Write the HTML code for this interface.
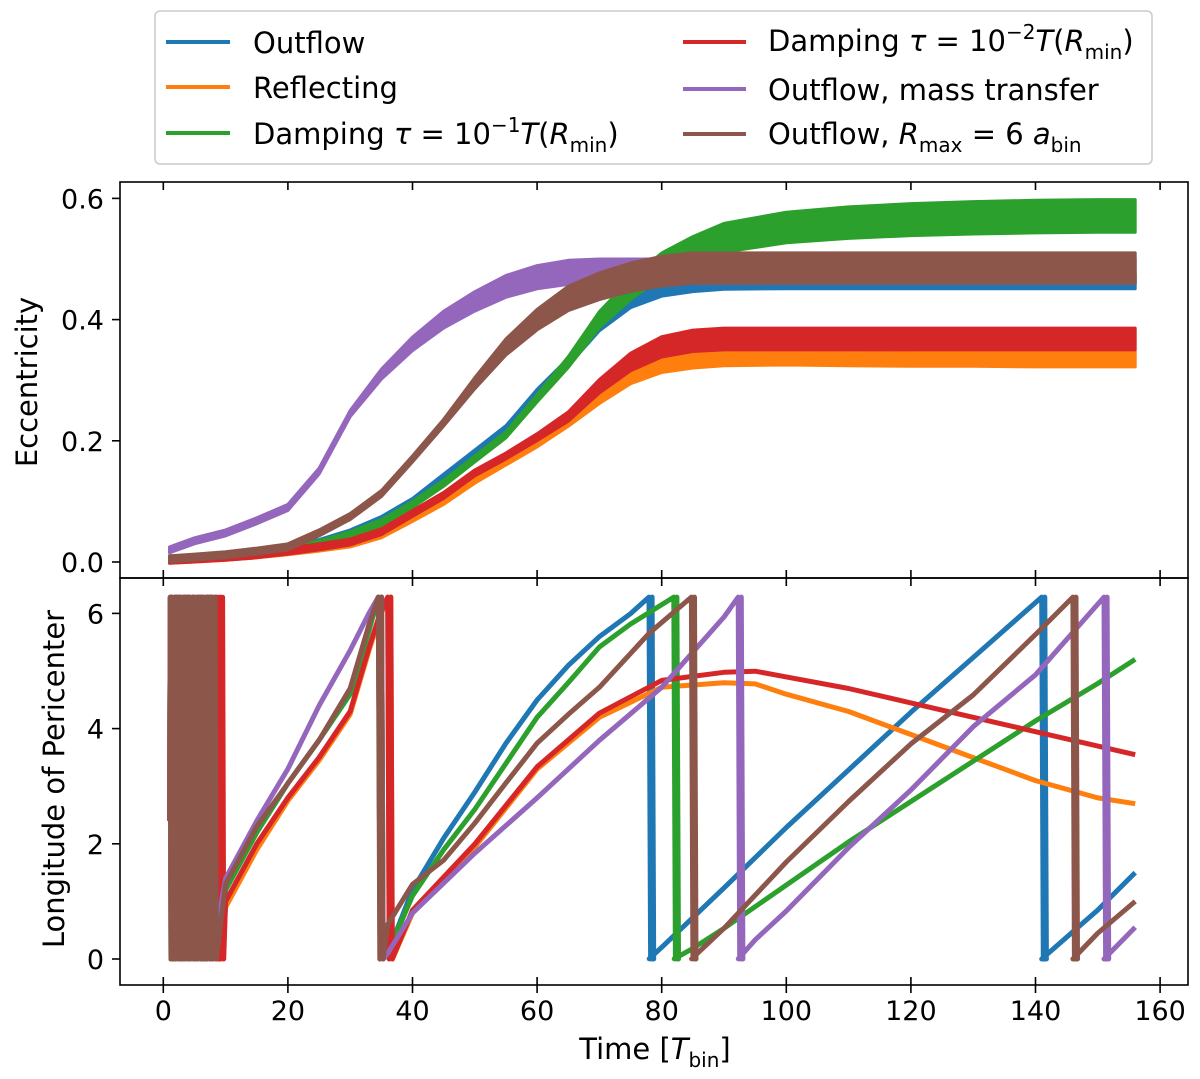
<!DOCTYPE html>
<html><head><meta charset="utf-8"><style>
html,body{margin:0;padding:0;background:#fff;}
svg text{font-family:"DejaVu Sans","Liberation Sans",sans-serif;fill:#000;}
</style></head><body>
<svg id="chart" width="1200" height="1074" viewBox="0 0 1200 1074" xmlns="http://www.w3.org/2000/svg">
<defs>
<clipPath id="clipTop"><rect x="120" y="182" width="1068" height="396"/></clipPath>
<clipPath id="clipBot"><rect x="120" y="578" width="1068" height="407"/></clipPath>
</defs>
<g id="topMarks" clip-path="url(#clipTop)"></g>
<g id="botMarks" clip-path="url(#clipBot)"></g>
<rect x="120" y="182" width="1068" height="396" fill="none" stroke="#000" stroke-width="1.6"/>
<rect x="120" y="578" width="1068" height="407" fill="none" stroke="#000" stroke-width="1.6"/>
<g id="axes"></g>
<text transform="translate(37,382) rotate(-90)" font-size="29" text-anchor="middle">Eccentricity</text>
<text transform="translate(64,779) rotate(-90)" font-size="29" text-anchor="middle">Longitude of Pericenter</text>
<text x="655" y="1059" font-size="29" text-anchor="middle">Time [<tspan font-style="italic">T</tspan><tspan font-size="20" dy="8">bin</tspan><tspan dy="-8">]</tspan></text>
<g>
<rect x="155" y="11" width="997" height="153" rx="5" fill="#fff" stroke="#ccc" stroke-width="1.6"/>
<g><line x1="166" y1="42" x2="230" y2="42" stroke="#1f77b4" stroke-width="4"/><text x="253" y="53" font-size="29">Outflow</text></g>
<g><line x1="166" y1="87" x2="230" y2="87" stroke="#ff7f0e" stroke-width="4"/><text x="253" y="98" font-size="29">Reflecting</text></g>
<g><line x1="166" y1="133" x2="230" y2="133" stroke="#2ca02c" stroke-width="4"/><text x="253" y="144" font-size="29">Damping <tspan font-style="italic">τ</tspan> = 10<tspan font-size="20" dy="-12">−1</tspan><tspan dy="12" font-style="italic">T</tspan>(<tspan font-style="italic">R</tspan><tspan font-size="20" dy="8">min</tspan><tspan dy="-8">)</tspan></text></g>
<g><line x1="683" y1="42" x2="746" y2="42" stroke="#d62728" stroke-width="4"/><text x="768" y="51" font-size="29">Damping <tspan font-style="italic">τ</tspan> = 10<tspan font-size="20" dy="-12">−2</tspan><tspan dy="12" font-style="italic">T</tspan>(<tspan font-style="italic">R</tspan><tspan font-size="20" dy="8">min</tspan><tspan dy="-8">)</tspan></text></g>
<g><line x1="683" y1="89" x2="746" y2="89" stroke="#9467bd" stroke-width="4"/><text x="768" y="100" font-size="29">Outflow, mass transfer</text></g>
<g><line x1="683" y1="134" x2="746" y2="134" stroke="#8c564b" stroke-width="4"/><text x="768" y="144" font-size="29">Outflow, <tspan font-style="italic">R</tspan><tspan font-size="20" dy="8">max</tspan><tspan dy="-8"> = 6 </tspan><tspan font-style="italic">a</tspan><tspan font-size="20" dy="8">bin</tspan></text></g>
</g>
</svg>
<script>
// ---- data ----
const xTicks = [0,20,40,60,80,100,120,140,160];
const eccTicks = [0.0,0.2,0.4,0.6];
const eccTickLabels = ["0.0","0.2","0.4","0.6"];
const periTicks = [0,2,4,6];
const periTickLabels = ["0","2","4","6"];
const seriesNames = ["outflow","reflecting","damping-1","damping-2","mass-transfer","rmax-6"];
const colors = ["#1f77b4","#ff7f0e","#2ca02c","#d62728","#9467bd","#8c564b"];

const eccTimes = [1,5,10,15,20,25,30,35,40,45,50,55,60,65,70,75,80,85,90,100,110,120,130,140,150,156];
const eccOutflow = [0.005,0.007,0.01,0.015,0.022,0.032,0.048,0.07,0.10,0.14,0.18,0.22,0.28,0.33,0.39,0.43,0.45,0.458,0.462,0.463,0.463,0.463,0.463,0.463,0.463,0.463];
const eccReflecting = [0.003,0.005,0.008,0.012,0.017,0.023,0.03,0.045,0.072,0.10,0.135,0.165,0.195,0.23,0.27,0.305,0.325,0.333,0.337,0.338,0.337,0.336,0.336,0.335,0.335,0.335];
const eccDamp1 = [0.005,0.007,0.01,0.015,0.021,0.03,0.045,0.065,0.095,0.13,0.17,0.21,0.27,0.33,0.40,0.45,0.49,0.515,0.535,0.552,0.56,0.565,0.568,0.57,0.571,0.571];
const eccDamp2 = [0.003,0.005,0.008,0.012,0.018,0.025,0.033,0.05,0.08,0.11,0.147,0.175,0.206,0.24,0.29,0.33,0.355,0.365,0.368,0.368,0.368,0.368,0.368,0.368,0.368,0.368];
const eccMass = [0.02,0.035,0.048,0.068,0.09,0.15,0.245,0.31,0.36,0.40,0.43,0.455,0.47,0.478,0.48,0.48,0.48,0.48,0.48,0.48,0.48,0.48,0.48,0.48,0.48,0.48];
const eccRmax = [0.005,0.008,0.012,0.018,0.025,0.048,0.075,0.113,0.17,0.23,0.295,0.355,0.40,0.435,0.455,0.47,0.48,0.485,0.485,0.485,0.485,0.485,0.485,0.485,0.485,0.485];
const eccHalfWidth = [0.012,0.013,0.027,0.018,0.02,0.025];

const periOutflowT = [10,15,20,25,30,33,34.5,36,40,45,50,55,60,65,70,75,78,80,90,100,110,120,130,141,150,156];
const periOutflowV = [1.2,2.2,3.05,3.8,4.6,5.7,6.28,6.38,7.48,8.38,9.18,10.03,10.78,11.38,11.88,12.28,12.57,12.77,13.8,14.85,15.85,16.85,17.8,18.85,19.7,20.35];
const periReflT = [10,15,20,25,30,33,34.5,36,40,50,60,70,80,90,95,100,110,120,130,140,150,156];
const periReflV = [0.9,1.9,2.75,3.45,4.25,5.35,5.85,6.28,7.08,8.23,9.58,10.48,11.0,11.08,11.06,10.88,10.58,10.18,9.78,9.38,9.08,8.98];
const periDamp1T = [10,15,20,25,30,33,34.5,36,40,45,50,55,60,65,70,75,82,85,90,100,110,120,130,140,150,156];
const periDamp1V = [1.2,2.2,3.05,3.8,4.6,5.7,6.28,6.38,7.38,8.18,8.88,9.68,10.48,11.08,11.7,12.1,12.57,12.75,13.1,13.85,14.6,15.3,16.0,16.7,17.35,17.77];
const periDamp2T = [10,15,20,25,30,33,34.5,36,40,50,60,70,80,90,95,100,110,120,130,140,150,156];
const periDamp2V = [1.0,2.0,2.8,3.5,4.3,5.4,5.9,6.28,7.13,8.28,9.62,10.55,11.12,11.26,11.28,11.18,10.98,10.73,10.48,10.23,9.98,9.83];
const periMassT = [10,15,20,25,30,33,34.5,36,40,50,60,70,80,90,92.3,95,100,110,120,130,140,151,156];
const periMassV = [1.4,2.4,3.3,4.4,5.36,6.0,6.28,6.38,7.08,8.12,9.08,10.08,11.0,12.22,12.57,12.9,13.4,14.5,15.5,16.6,17.5,18.85,19.4];
const periRmaxT = [10,15,20,25,30,33,34.5,36,40,45,50,55,60,65,70,78,84.8,90,100,110,120,130,140,146,150,156];
const periRmaxV = [1.3,2.3,3.05,3.8,4.7,5.8,6.28,6.88,7.58,8.0,8.64,9.34,10.03,10.53,11.0,11.94,12.57,13.1,14.25,15.3,16.3,17.15,18.2,18.85,19.3,19.85];
const chaosVals = [2.4,6.28,0,6.28,0,5.6,0,6.28,0,6.28,0.5,6.28,0,6.28,0,6.28,0,4.0,0,6.28,0,6.28,0.3,6.28,0,6.28,0,6.28,0,5.0];
const chaosEnd = [8.6,9.2,8.6,9.6,7.6,8.4];

// ---- axes ----
const X0=163.3, XS=6.23;
const sx = t => X0 + t*XS;
const syTop = v => 562 - v*606;
const syBot = v => 959 - v*57.6;
const NS="http://www.w3.org/2000/svg";
function mk(tag, attrs, parent){const e=document.createElementNS(NS,tag);for(const k in attrs)e.setAttribute(k,attrs[k]);parent.appendChild(e);return e;}
const axes=document.getElementById('axes');
xTicks.forEach(t=>{
  [[182,190],[578,570],[578,586],[985,977],[985,993]].forEach(p=>{
    const l=mk('line',{x1:sx(t),x2:sx(t),y1:p[0],y2:p[1],stroke:'#000','stroke-width':1.6},axes);
    
    
  });
  const tx=mk('text',{x:sx(t),y:1020,'font-size':27,'text-anchor':'middle'},axes);
  tx.textContent=String(t);
  
  
});
eccTicks.forEach((v,i)=>{
  const l=mk('line',{x1:112,x2:120,y1:syTop(v),y2:syTop(v),stroke:'#000','stroke-width':1.6},axes);
  
  
  const tx=mk('text',{x:104,y:syTop(v)+10,'font-size':27,'text-anchor':'end'},axes);
  tx.textContent=eccTickLabels[i];
  
  
});
periTicks.forEach((v,i)=>{
  const l=mk('line',{x1:112,x2:120,y1:syBot(v),y2:syBot(v),stroke:'#000','stroke-width':1.6},axes);
  
  
  const tx=mk('text',{x:104,y:syBot(v)+10,'font-size':27,'text-anchor':'end'},axes);
  tx.textContent=periTickLabels[i];
  
  
});

// ---- eccentricity bands ----
const eccSeries=[eccOutflow,eccReflecting,eccDamp1,eccDamp2,eccMass,eccRmax];
const topG=document.getElementById('topMarks');
eccSeries.forEach((vals,si)=>{
  const last=vals[vals.length-1], hw=eccHalfWidth[si];
  const up=[], lo=[];
  vals.forEach((v,i)=>{
    const r=Math.min(1, v/last);
    const h=Math.max(0.005, hw*r*r);
    up.push(sx(eccTimes[i]).toFixed(1)+','+syTop(v+h).toFixed(1));
    lo.unshift(sx(eccTimes[i]).toFixed(1)+','+syTop(v-h).toFixed(1));
  });
  const p=mk('polygon',{points:up.concat(lo).join(' '),fill:colors[si],stroke:colors[si],'stroke-width':3,'stroke-linejoin':'round'},topG);
  
  
});

// ---- pericenter lines ----
const TWO_PI=6.2832;
const periT=[periOutflowT,periReflT,periDamp1T,periDamp2T,periMassT,periRmaxT];
const periV=[periOutflowV,periReflV,periDamp1V,periDamp2V,periMassV,periRmaxV];
const botG=document.getElementById('botMarks');
periT.forEach((ts,si)=>{
  const vs=periV[si];
  const pts=[];
  let k=0;
  for(let t=1;t<=chaosEnd[si];t+=0.12){pts.push([t,chaosVals[k%chaosVals.length]]);k++;}
  pts.push([chaosEnd[si]+0.1,0]);
  for(let i=0;i<ts.length;i++){
    if(i>0){
      const a=vs[i-1], b=vs[i];
      const ka=Math.floor(a/TWO_PI-1e-9), kb=Math.floor(b/TWO_PI-1e-9);
      if(kb!==ka){
        const lo=Math.min(ka,kb)+1, boundary=lo*TWO_PI;
        const f=(boundary-a)/(b-a);
        const tb=ts[i-1]+f*(ts[i]-ts[i-1]);
        if(b>a){pts.push([tb,TWO_PI]);pts.push([tb+0.25,0]);pts.push([tb+0.5,TWO_PI]);pts.push([tb+0.75,0]);}
        else{pts.push([tb,0]);pts.push([tb,TWO_PI]);}
      }
    }
    let w=vs[i]-Math.floor(vs[i]/TWO_PI-1e-9)*TWO_PI;
    pts.push([ts[i],w]);
  }
  const d=pts.map((p,i)=>(i?'L':'M')+sx(p[0]).toFixed(1)+' '+syBot(p[1]).toFixed(1)).join(' ');
  const path=mk('path',{d:d,fill:'none',stroke:colors[si],'stroke-width':5,'stroke-linejoin':'round'},botG);
  
  
});
</script>
</body></html>
